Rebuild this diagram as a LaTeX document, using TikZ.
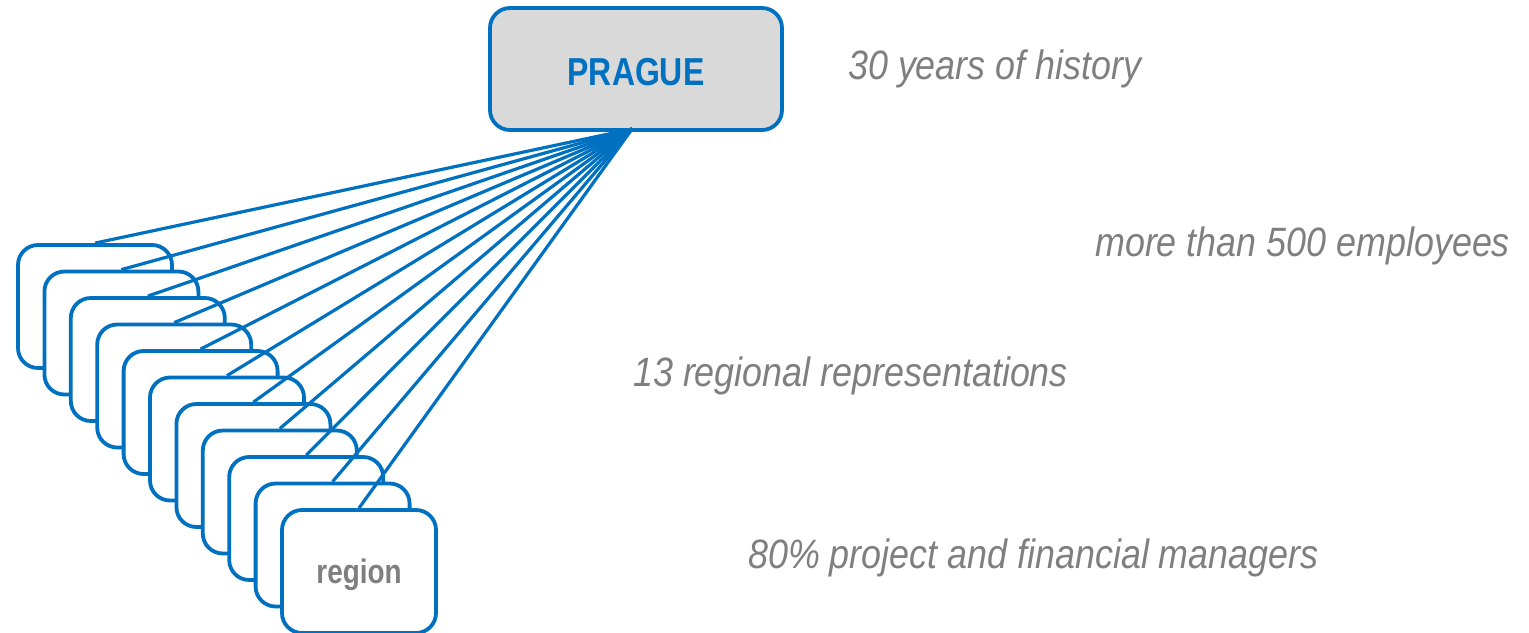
\documentclass[tikz,border=0pt]{standalone}
\usepackage{fontspec}
\setmainfont{Liberation Sans}
\newfontfamily\narrowsans[FakeStretch=0.82]{Liberation Sans}
\newfontfamily\notesans[FakeStretch=0.875]{Liberation Sans}
\definecolor{hqblue}{HTML}{0070C0}
\definecolor{hqfill}{HTML}{D9D9D9}
\definecolor{notegray}{HTML}{7F7F7F}

\begin{document}
\begin{tikzpicture}[x=1pt, y=-1pt,
          hqbox/.style={rectangle, draw=hqblue, line width=3.8pt, fill=hqfill, rounded corners=20pt, minimum width=292pt, minimum height=122pt, text height=32pt, text depth=0pt, text=hqblue, font=\narrowsans\bfseries\fontsize{39}{44}\selectfont},
          regbox/.style={rectangle, draw=hqblue, line width=3.8pt, fill=white, rounded corners=20pt, minimum width=154pt, minimum height=123pt, text height=23pt, text depth=0pt, text=notegray, font=\narrowsans\bfseries\fontsize{34}{40}\selectfont},
          note/.style={anchor=base west, inner sep=0pt, text=notegray, font=\notesans\itshape\fontsize{41}{46}\selectfont},
          link/.style={draw=hqblue, line width=3.2pt}]
          \useasboundingbox (0,0) rectangle (1529,632);

          \node[hqbox] (hq) at (636,69) {PRAGUE};
          \coordinate (hub) at (632,129);

          % stacked regional offices, back to front
          \foreach \i in {1,...,10}
            \node[regbox] (reg\i) at ({95+26.4*(\i-1)},{306.5+26.5*(\i-1)}) {};
          \node[regbox] (reg11) at (359,571.5) {region};

          \foreach \i in {1,...,11}
            \draw[link] (hub) -- (reg\i.north);

          \node[note] (history) at (848,79) {30 years of history};
          \node[note] (staff) at (1095,256) {more than 500 employees};
          \node[note] (offices) at (633,386) {13 regional representations};
          \node[note] (managers) at (748,568) {80\% project and financial managers};
        \end{tikzpicture}
\end{document}
